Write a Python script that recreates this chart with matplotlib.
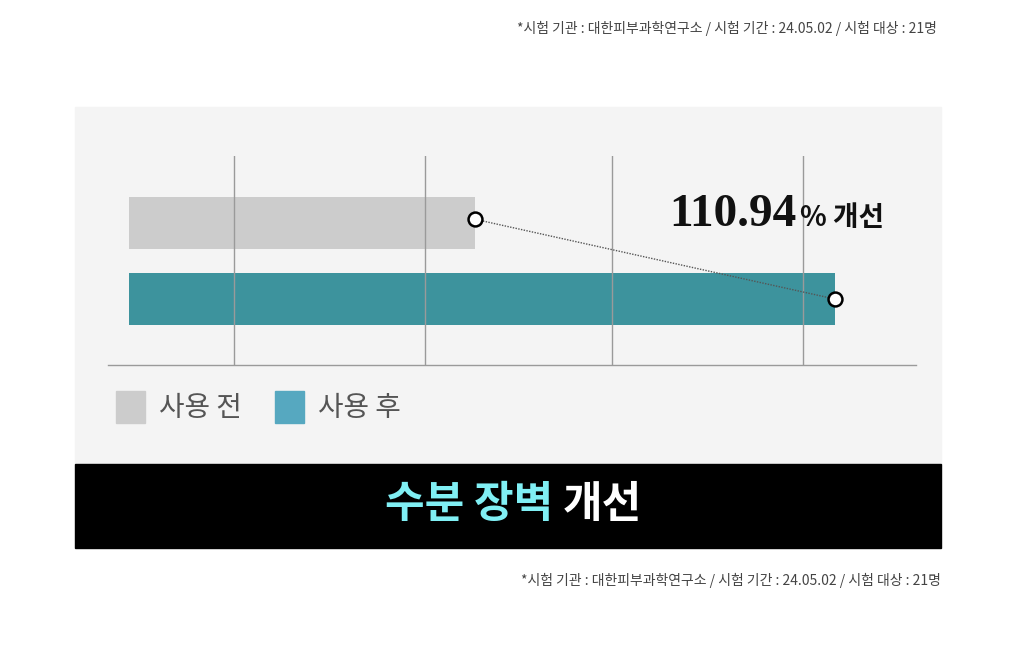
import matplotlib
matplotlib.use("Agg")
import matplotlib.pyplot as plt
from matplotlib.patches import Rectangle

plt.rcParams["font.family"] = ["Noto Sans CJK KR", "DejaVu Sans"]

# data (bar length, relative units)
labels = ["사용 전", "사용 후"]
values = [49.0, 100.0]
bar_colors = ["#cccccc", "#3d939d"]
legend_colors = ["#cccccc", "#56a8c0"]
grid_x = [14.9, 41.9, 68.4, 95.5]
improve_num = "110.94"
improve_unit = "% 개선"
title_hi = "수분 장벽"
title_rest = "개선"
note = "*시험 기관 : 대한피부과학연구소 / 시험 기간 : 24.05.02 / 시험 대상 : 21명"

W, H = 1020, 661
fig = plt.figure(figsize=(W / 100, H / 100), dpi=100)
fig.patch.set_facecolor("white")


def fx(px):
    return px / W


def fy(py):
    return 1 - py / H


# gray panel + black title band
fig.patches.append(Rectangle((fx(75), fy(464)), fx(941) - fx(75), fy(107) - fy(464),
                             transform=fig.transFigure, color="#f4f4f4", zorder=-2))
fig.patches.append(Rectangle((fx(75), fy(548)), fx(941) - fx(75), fy(464) - fy(548),
                             transform=fig.transFigure, color="black", zorder=-2))

ax = fig.add_axes([fx(108), fy(365), fx(916) - fx(108), fy(156) - fy(365)])
ax.set_facecolor("none")
ax.set_xlim(-2.97, 111.5)
ax.set_ylim(-0.868, 1.882)

for gx in grid_x:
    ax.axvline(gx, color="#9a9a9a", lw=1, zorder=3)

ypos = [1, 0]
ax.barh(ypos, values, height=0.684, color=bar_colors, zorder=2)
ax.plot(values, [1.05, 0], ls=(0, (1, 1)), color="#555555", lw=1,
        marker="o", ms=10, mfc="white", mec="black", mew=1.8, zorder=5, clip_on=False)

for s in ["top", "left", "right"]:
    ax.spines[s].set_visible(False)
ax.spines["bottom"].set_color("#9a9a9a")
ax.spines["bottom"].set_linewidth(1)
ax.set_xticks([])
ax.set_yticks([])

# improvement label
fig.text(fx(797), fy(226), improve_num, family="Liberation Serif", weight="bold",
         fontsize=34, ha="right", va="baseline", color="#111111")
fig.text(fx(800), fy(226), improve_unit, weight="bold", fontsize=20,
         ha="left", va="baseline", color="#111111")

# legend
lx = [116, 275]
for i, lab in enumerate(labels):
    fig.patches.append(Rectangle((fx(lx[i]), fy(423)), fx(29), 32 / H,
                                 transform=fig.transFigure, color=legend_colors[i]))
    fig.text(fx(lx[i] + 43), fy(408), lab, fontsize=20, weight="light",
             color="#555555", ha="left", va="center")

# band title
fig.text(fx(385), fy(504), title_hi, fontsize=31, weight="bold", color="#80eff4",
         ha="left", va="center")
fig.text(fx(642), fy(504), title_rest, fontsize=31, weight="bold", color="white",
         ha="right", va="center")

# notes
fig.text(fx(937), fy(28), note, fontsize=10, color="#444444", ha="right", va="center")
fig.text(fx(941), fy(580), note, fontsize=10, color="#444444", ha="right", va="center")

fig.savefig("out.png", dpi=100)
